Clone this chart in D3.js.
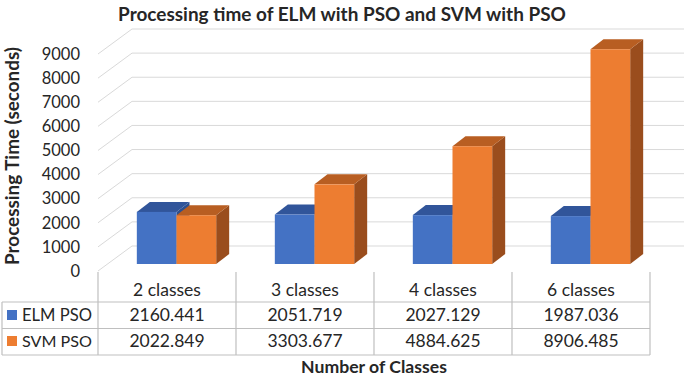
<!DOCTYPE html>
<html>
<head>
<meta charset="utf-8">
<script src="https://cdn.jsdelivr.net/npm/d3@7"></script>
<style>
  body { margin: 0; background: #fff; }
  text { font-family: Lato, "Noto Sans", sans-serif; fill: #262626; }
</style>
</head>
<body>
<svg id="drawing_region"></svg>
<script>
// data
const categories = ['2 classes', '3 classes', '4 classes', '6 classes'];
const seriesNames = ['ELM PSO', 'SVM PSO'];
const elmPso = [2160.441, 2051.719, 2027.129, 1987.036];
const svmPso = [2022.849, 3303.677, 4884.625, 8906.485];
const yTicks = [0, 1000, 2000, 3000, 4000, 5000, 6000, 7000, 8000, 9000];
const valueLabels = [
    ['2160.441', '2051.719', '2027.129', '1987.036'],
    ['2022.849', '3303.677', '4884.625', '8906.485']
];

const values = [elmPso, svmPso];
const colors = [
    {front: '#4472c4', top: '#31559a', side: '#2c4f8f'},
    {front: '#ed7d31', top: '#b85e22', side: '#9a4d1d'}
];

const width = 685, height = 376;

const svg = d3.select('#drawing_region')
    .attr('width', width)
    .attr('height', height);

// front plane of the box
const yscale = d3.scaleLinear()
    .domain([0, 9000])
    .range([271, 54]);

const xscale = d3.scaleBand()
    .domain(categories)
    .range([98, 650])
    .paddingInner(0)
    .paddingOuter(0);

// wall depth and bar depth offsets
const wall = {dx: 34, dy: -25};
const barPlane = {dx: 9.5, dy: -7};
const barDepth = {dx: 13, dy: -10};

const pairWidth = xscale.bandwidth() * 0.575;
const inner = d3.scaleBand()
    .domain(seriesNames)
    .range([(xscale.bandwidth() - pairWidth) / 2, (xscale.bandwidth() + pairWidth) / 2]);

// fit a text element to a given length by adjusting its font size
function fit(sel, len) {
    const node = sel.node();
    const fs = parseFloat(sel.attr('font-size'));
    const w = node.getComputedTextLength();
    sel.attr('font-size', fs * len / w);
}

// grid: back wall and left wall lines
const grid = svg.append('g')
    .attr('stroke', '#d9d9d9')
    .attr('stroke-width', 1)
    .attr('fill', 'none');

grid.selectAll('line.back')
    .data(yTicks)
    .join('line')
    .attr('class', 'back')
    .attr('x1', 98 + wall.dx)
    .attr('x2', 650 + wall.dx)
    .attr('y1', d => yscale(d) + wall.dy)
    .attr('y2', d => yscale(d) + wall.dy);

grid.selectAll('line.side')
    .data(yTicks)
    .join('line')
    .attr('class', 'side')
    .attr('x1', 98)
    .attr('x2', 98 + wall.dx)
    .attr('y1', d => yscale(d))
    .attr('y2', d => yscale(d) + wall.dy);

// y tick labels
svg.append('g').selectAll('text')
    .data(yTicks)
    .join('text')
    .attr('x', 80)
    .attr('y', d => yscale(d))
    .attr('dy', '0.35em')
    .attr('text-anchor', 'end')
    .attr('font-size', 16.5)
    .text(d => d);

// bars
const barBase = yscale(0) + barPlane.dy;
categories.forEach((c, i) => {
    seriesNames.forEach((s, j) => {
        const v = values[j][i];
        const x0 = xscale(c) + inner(s) + barPlane.dx;
        const x1 = x0 + inner.bandwidth();
        const yt = yscale(v) + barPlane.dy;
        const g = svg.append('g');
        g.append('polygon')
            .attr('points', [[x1, yt], [x1 + barDepth.dx, yt + barDepth.dy], [x1 + barDepth.dx, barBase + barDepth.dy], [x1, barBase]].join(' '))
            .attr('fill', colors[j].side);
        g.append('polygon')
            .attr('points', [[x0, yt], [x0 + barDepth.dx, yt + barDepth.dy], [x1 + barDepth.dx, yt + barDepth.dy], [x1, yt]].join(' '))
            .attr('fill', colors[j].top);
        g.append('rect')
            .attr('x', x0)
            .attr('y', yt)
            .attr('width', x1 - x0)
            .attr('height', barBase - yt)
            .attr('fill', colors[j].front);
    });
});

// data table
const table = svg.append('g')
    .attr('stroke', '#bfbfbf')
    .attr('stroke-width', 1.2);

const colEdges = [98].concat(categories.map(c => xscale(c) + xscale.bandwidth()));
const rowLines = [302, 328.5, 355];

table.selectAll('line.v')
    .data(colEdges)
    .join('line')
    .attr('class', 'v')
    .attr('x1', d => d).attr('x2', d => d)
    .attr('y1', 272).attr('y2', 355);

table.append('line')
    .attr('x1', 2).attr('x2', 2)
    .attr('y1', 302).attr('y2', 355);

table.selectAll('line.h')
    .data(rowLines)
    .join('line')
    .attr('class', 'h')
    .attr('x1', 2).attr('x2', 650)
    .attr('y1', d => d).attr('y2', d => d);

svg.append('g').selectAll('text')
    .data(categories)
    .join('text')
    .attr('x', d => xscale(d) + xscale.bandwidth() / 2)
    .attr('y', 290)
    .attr('dy', '0.35em')
    .attr('text-anchor', 'middle')
    .attr('font-size', 17.5)
    .text(d => d);

const rowY = [315, 341];
seriesNames.forEach((s, j) => {
    svg.append('rect')
        .attr('x', 7).attr('y', rowY[j] - 5)
        .attr('width', 10).attr('height', 10)
        .attr('fill', colors[j].front);
    const lab = svg.append('text')
        .attr('x', 22)
        .attr('y', rowY[j])
        .attr('dy', '0.35em')
        .attr('font-size', 17)
        .text(s);
    fit(lab, 70);
    svg.append('g').selectAll('text')
        .data(categories)
        .join('text')
        .attr('x', d => xscale(d) + xscale.bandwidth() / 2)
        .attr('y', rowY[j])
        .attr('dy', '0.35em')
        .attr('text-anchor', 'middle')
        .attr('font-size', 17.5)
        .text((d, i) => valueLabels[j][i]);
});

// titles
const title = svg.append('text')
    .attr('x', 342)
    .attr('y', 14)
    .attr('dy', '0.35em')
    .attr('text-anchor', 'middle')
    .attr('font-weight', 'bold')
    .attr('font-size', 16)
    .text('Processing time of ELM with PSO and SVM with PSO');
fit(title, 448);

const ytitle = svg.append('text')
    .attr('transform', 'translate(12,156) rotate(-90)')
    .attr('dy', '0.35em')
    .attr('text-anchor', 'middle')
    .attr('font-weight', 'bold')
    .attr('font-size', 16)
    .text('Processing Time (seconds)');
fit(ytitle, 218);

const xtitle = svg.append('text')
    .attr('x', 374)
    .attr('y', 367)
    .attr('dy', '0.35em')
    .attr('text-anchor', 'middle')
    .attr('font-weight', 'bold')
    .attr('font-size', 16)
    .text('Number of Classes');
fit(xtitle, 146);
</script>
</body>
</html>
